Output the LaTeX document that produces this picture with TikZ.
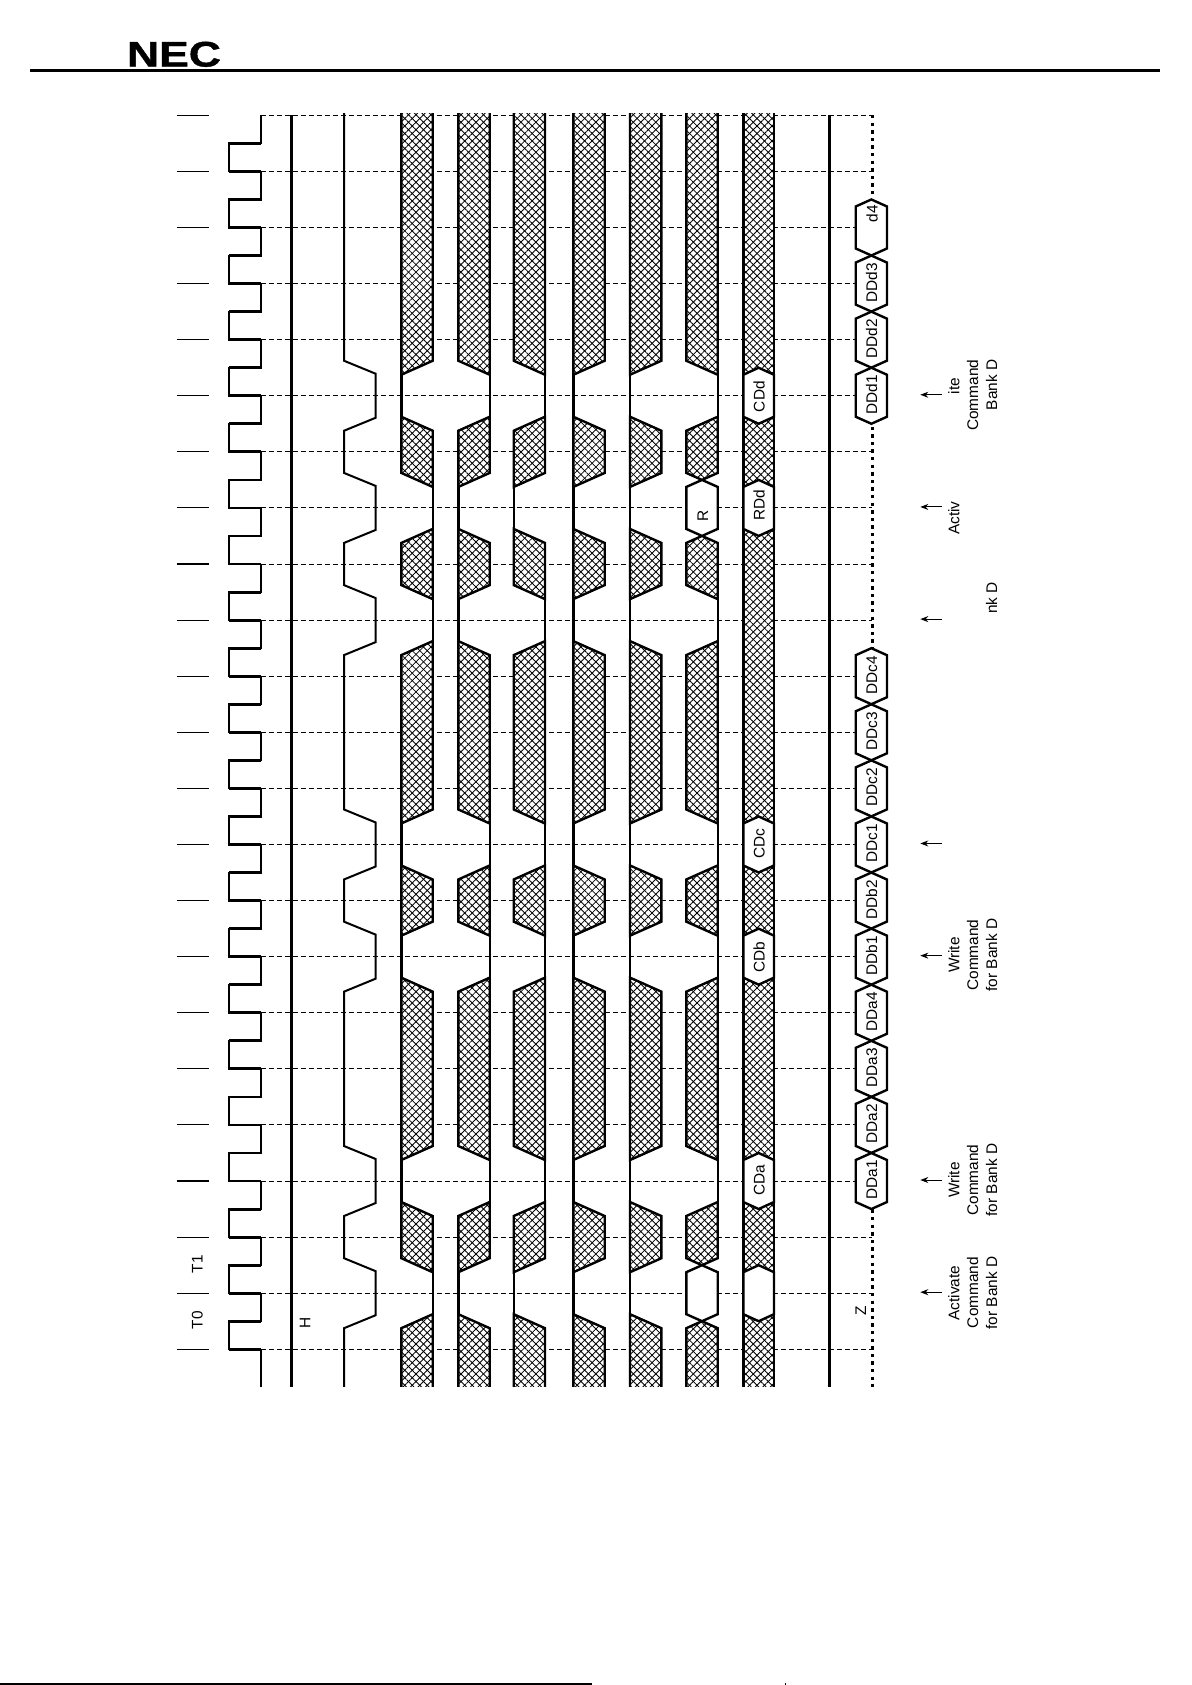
\documentclass[tikz,border=0pt]{standalone}
\usepackage{fontspec}
\setmainfont{Liberation Sans}
\usetikzlibrary{patterns.meta,arrows.meta}
\newcommand{\GY}[1]{(115.3+56.09*(#1))}
\def\bw{2.4}
\tikzset{
  x=1pt,y=-1pt,
  hatchA/.style={pattern={Lines[angle=45,distance=5.3pt,line width=.85pt]}},
  hatchB/.style={pattern={Lines[angle=-45,distance=5.3pt,line width=.85pt]}},
  hatchpoly/.style={preaction={fill=white},preaction={hatchA},preaction={hatchB},draw=black,line width=2.4pt,line join=miter},
  whitehex/.style={fill=white,draw=black,line width=2.4pt,line join=miter},
  busline/.style={line width=\bw pt,black},
  thickline/.style={line width=2.8pt,black},
  gridline/.style={line width=1pt,black,dash pattern=on 4.6pt off 3.4pt},
  tickline/.style={line width=1.1pt,black},
  clockline/.style={line width=2.1pt,black,line join=miter},
  clockedge/.style={line width=2.8pt,black},
  dotline/.style={line width=3pt,black,dash pattern=on 3.4pt off 4.2pt},
  lbl/.style={rotate=90,inner sep=0pt,text height=10.6pt,text depth=0pt,font=\fontsize{15.4}{17}\selectfont},
  cmdarrow/.style={line width=1pt,-{Stealth[length=8pt,width=6pt]}},
}
% segment between two command slots
\newcommand{\Seg}[6]{% xL xR gTop sTop gBot sBot
  \pgfmathsetmacro\xa{#1}\pgfmathsetmacro\xb{#2}\pgfmathsetmacro\xc{(#1+#2)/2}
  \pgfmathsetmacro\ytl{\GY{#3}+{21,35,35,-6}[#4]}
  \pgfmathsetmacro\ytr{\GY{#3}+{35,21,35,-6}[#4]}
  \pgfmathsetmacro\ytc{\GY{#3}+{28,28,28,-6}[#4]}
  \pgfmathsetmacro\ybl{\GY{#5}-{21,35,35,-6}[#6]}
  \pgfmathsetmacro\ybr{\GY{#5}-{35,21,35,-6}[#6]}
  \pgfmathsetmacro\ybc{\GY{#5}-{28,28,28,-6}[#6]}
  \path[hatchpoly] (\xa,\ytl) -- (\xc,\ytc) -- (\xb,\ytr) -- (\xb,\ybr) -- (\xc,\ybc) -- (\xa,\ybl) -- cycle;
}
% the state at a command slot: 0 line left, 1 line right, 2 white hexagon
\newcommand{\Slot}[4]{% xL xR g s
  \pgfmathsetmacro\ya{\GY{#3}-21}\pgfmathsetmacro\yb{\GY{#3}+21}
  \ifcase#4\relax
    \draw[busline] (#1,\ya) -- (#1,\yb);
  \or
    \draw[busline] (#2,\ya) -- (#2,\yb);
  \or
    \Hex{#1}{#2}{#3}
  \fi
}
\newcommand{\Hex}[3]{% xL xR g
  \pgfmathsetmacro\ya{\GY{#3}-21}\pgfmathsetmacro\yb{\GY{#3}+21}
  \pgfmathsetmacro\yc{\GY{#3}-28}\pgfmathsetmacro\yd{\GY{#3}+28}
  \pgfmathsetmacro\xc{(#1+#2)/2}
  \path[whitehex] (#1,\ya) -- (\xc,\yc) -- (#2,\ya) -- (#2,\yb) -- (\xc,\yd) -- (#1,\yb) -- cycle;
}
\newcommand{\BusCol}[9]{% xL xR s5 s7 s9 s13 s15 s19 s21
  \Seg{#1}{#2}{0}{3}{5}{#3}
  \Seg{#1}{#2}{5}{#3}{7}{#4}
  \Seg{#1}{#2}{7}{#4}{9}{#5}
  \Seg{#1}{#2}{9}{#5}{13}{#6}
  \Seg{#1}{#2}{13}{#6}{15}{#7}
  \Seg{#1}{#2}{15}{#7}{19}{#8}
  \Seg{#1}{#2}{19}{#8}{21}{#9}
  \Seg{#1}{#2}{21}{#9}{22.655}{3}
  \Slot{#1}{#2}{5}{#3}\Slot{#1}{#2}{7}{#4}\Slot{#1}{#2}{9}{#5}\Slot{#1}{#2}{13}{#6}
  \Slot{#1}{#2}{15}{#7}\Slot{#1}{#2}{19}{#8}\Slot{#1}{#2}{21}{#9}
}
\begin{document}
\begin{tikzpicture}
\useasboundingbox (0,0) rectangle (1191,1685);
% header
\node[inner sep=0pt,anchor=center,xscale=1.25,font=\fontsize{35.6}{38}\selectfont\bfseries\addfontfeature{FakeBold=1}] (logo) at (174,54.3) {NEC};
\draw[line width=2.4pt] (30,70.7) -- (1160,70.7);
\draw[line width=1.5pt] (0,1684) -- (592,1684);
\draw[line width=1pt] (785,1682.5) -- (785,1685);
% grid and ticks
\foreach \g in {0,...,22}{
  \pgfmathsetmacro\yy{\GY{\g}}
  \draw[tickline] (176.7,\yy) -- (208.7,\yy);
  \draw[gridline] (261,\yy) -- (872.3,\yy);
}
% clock
\foreach \g in {1,...,22}{
  \pgfmathsetmacro\yy{\GY{\g}}
  \pgfmathsetmacro\yu{\GY{\g}-28}
  \pgfmathsetmacro\yv{\GY{\g-1}}
  \draw[clockline] (261,\yy) -- (229,\yy) -- (229,\yu) -- (261,\yu) -- (261,\yv);
  \draw[clockedge] (261,\yy) -- (229,\yy);
  \draw[clockedge] (229,\yu) -- (261,\yu);
}
\draw[clockline] (261,1349.3) -- (261,1386.5);
% H line
\draw[thickline] (291.7,115) -- (291.7,1386.5);
% address
\begin{scope}
\clip (300,114) rectangle (800,1386.5);
\draw[line width=2pt,line join=miter]
  (344,110)
  \foreach \g in {5,7,9,13,15,19,21}{
    -- (344,{\GY{\g}-35}) -- (375.7,{\GY{\g}-22}) -- (375.7,{\GY{\g}+22}) -- (344,{\GY{\g}+35})
  } -- (344,1392);
% control buses
\def\bw{2.4}
\BusCol{401.3}{432.7}{0}{1}{1}{0}{0}{0}{1}
\BusCol{458.3}{489.7}{1}{0}{0}{1}{1}{1}{0}
\def\bw{1.9}
\BusCol{513.7}{545}{1}{0}{1}{1}{1}{1}{0}
\def\bw{3}
\BusCol{573.3}{604.7}{0}{0}{0}{0}{0}{0}{0}
\def\bw{2.2}
\BusCol{630}{661.4}{0}{0}{0}{0}{0}{0}{0}
\def\bw{2.4}
\BusCol{686.3}{717.7}{1}{2}{1}{1}{1}{1}{2}
% column 7
\path[hatchpoly] (743.3,108) rectangle (774,1392);
\foreach \g in {5,7,13,15,19,21}{\Hex{743.3}{774}{\g}}
\end{scope}
% line right of it
\draw[thickline] (829.7,115) -- (829.7,1386.5);
% DQ
\draw[dotline] (872.3,115) -- (872.3,1386.5);
\foreach \g in {2,3,4,5,10,11,12,13,14,15,16,17,18,19}{\Hex{855.7}{887}{\g}}
% labels
\node[lbl] (t0) at (197.3,1320) {T0};
\node[lbl] (t1) at (197.3,1264) {T1};
\node[lbl] (h) at (305,1323) {H};
\node[lbl] (z) at (860.7,1310.5) {Z};
\node[lbl] (r) at (702.7,515.7) {R};
\node[lbl] (cda) at (759.2,1180) {CDa};
\node[lbl] (cdb) at (759.2,957) {CDb};
\node[lbl] (cdc) at (759.2,844) {CDc};
\node[lbl] (rdd) at (759.2,505) {RDd};
\node[lbl] (cdd) at (759.2,396.7) {CDd};
\foreach \g/\t in {19/DDa1,18/DDa2,17/DDa3,16/DDa4,15/DDb1,14/DDb2,13/DDc1,12/DDc2,11/DDc3,10/DDc4,5/DDd1,4/DDd2,3/DDd3}{
  \node[lbl] (dq\t) at (871.7,{\GY{\g}-1}) {\t};
}
\node[lbl] (dqd4) at (872.3,213.8) {d4};
% arrows
\foreach \g in {5,7,9,13,15,19,21}{
  \coordinate (as\g) at (941.7,{\GY{\g}-1});
  \coordinate (ae\g) at (920.3,{\GY{\g}-1});
  \draw[cmdarrow] (as\g) -- (ae\g);
}
% command texts
\node[lbl] (act1) at (954,1293) {Activate};
\node[lbl] (act2) at (972.7,1292.5) {Command};
\node[lbl] (act3) at (991.7,1293) {for Bank D};
\node[lbl] (wa1) at (954,1180) {Write};
\node[lbl] (wa2) at (972.7,1180) {Command};
\node[lbl] (wa3) at (991.7,1180) {for Bank D};
\node[lbl] (wb1) at (954,955) {Write};
\node[lbl] (wb2) at (972.7,955) {Command};
\node[lbl] (wb3) at (991.7,955) {for Bank D};
\node[lbl] (nk) at (991.7,598) {nk D};
\node[lbl] (act) at (954,518) {Activ};
\node[lbl] (ite) at (954,386) {ite};
\node[lbl] (wd2) at (972.7,395.3) {Command};
\node[lbl] (wd3) at (991.7,385) {Bank D};
\end{tikzpicture}
\end{document}
